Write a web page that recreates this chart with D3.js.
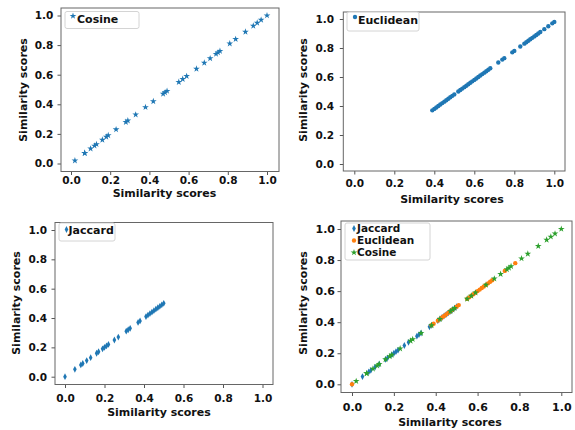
<!DOCTYPE html>
<html>
<head>
<meta charset="utf-8">
<script src="https://cdn.jsdelivr.net/npm/d3@7"></script>
<style>
  body { margin: 0; background: #fff; }
  text { font-family: "DejaVu Sans", sans-serif; font-weight: bold; fill: #111; }
</style>
</head>
<body>
<svg id="chart" width="575" height="430"></svg>
<script>
// tick values shared by every subplot
const tickVals = [0, 0.2, 0.4, 0.6, 0.8, 1.0];

// similarity scores
const cosine = [0.02, 0.07, 0.07, 0.10, 0.12, 0.13, 0.16, 0.18, 0.19, 0.23, 0.28, 0.29, 0.33, 0.38,
  0.42, 0.47, 0.48, 0.49, 0.55, 0.57, 0.59, 0.64, 0.68, 0.71, 0.74, 0.75, 0.76, 0.81, 0.84,
  0.89, 0.93, 0.95, 0.97, 1.00];

const euclidX = [0.39, 0.40, 0.41, 0.42, 0.43, 0.44, 0.45, 0.46, 0.47, 0.48, 0.49, 0.50, 0.52, 0.53,
  0.54, 0.55, 0.56, 0.57, 0.58, 0.59, 0.60, 0.61, 0.62, 0.63, 0.64, 0.65, 0.66, 0.67, 0.68,
  0.72, 0.74, 0.75, 0.79, 0.80, 0.83, 0.85, 0.86, 0.87, 0.88, 0.89, 0.90, 0.91, 0.92, 0.93,
  0.95, 0.97, 0.99, 1.00];
const euclidY = [0.37, 0.38, 0.39, 0.40, 0.41, 0.42, 0.43, 0.44, 0.45, 0.46, 0.47, 0.48, 0.50, 0.51,
  0.52, 0.53, 0.54, 0.55, 0.56, 0.57, 0.58, 0.59, 0.60, 0.61, 0.62, 0.63, 0.64, 0.65, 0.66,
  0.70, 0.72, 0.73, 0.77, 0.78, 0.81, 0.83, 0.84, 0.85, 0.86, 0.87, 0.88, 0.89, 0.90, 0.91,
  0.93, 0.95, 0.97, 0.98];

const jaccard = [0.00, 0.05, 0.08, 0.09, 0.11, 0.13, 0.16, 0.17, 0.19, 0.20, 0.21, 0.22, 0.25, 0.27,
  0.31, 0.32, 0.33, 0.37, 0.38, 0.41, 0.42, 0.43, 0.44, 0.45, 0.46, 0.47, 0.48, 0.49, 0.50];

// euclidean scores as they show in the combined plot
const euclidAll = [0.00, 0.38, 0.39, 0.41, 0.42, 0.43, 0.44, 0.45, 0.46, 0.47, 0.48, 0.50, 0.51, 0.55,
  0.56, 0.57, 0.58, 0.59, 0.60, 0.61, 0.62, 0.63, 0.64, 0.65, 0.66, 0.67, 0.73, 0.78];

const blue = "#1f77b4", orange = "#ff7f0e", green = "#2ca02c";

// marker shapes (matplotlib '*', '.', 'd')
const star = d3.symbol().type(d3.symbolStar).size(14);
const dot = d3.symbol().type(d3.symbolCircle).size(15);
const thinDiamond = d3.symbol().type({
  draw(ctx, size) {
    ctx.moveTo(0, -3.4); ctx.lineTo(1.8, 0); ctx.lineTo(0, 3.4); ctx.lineTo(-1.8, 0); ctx.closePath();
  }
});

const pairs = (xs, ys) => xs.map((v, i) => [v, ys ? ys[i] : v]);

const svg = d3.select("#chart");

const panels = [
  { l: 61, r: 279, t: 8, b: 171.5, x0: 71, x1: 267, y0: 163.5, y1: 15.5, fs: 10.5,
    xPad: 1.5, yPad: 4.2, xLab: [164.5, 193], yLab: [23, 90],
    series: [{ name: "Cosine", pts: pairs(cosine), sym: star, color: blue }],
    legend: { l: 65, t: 11.5, w: 74, h: 17, mx: 73, my: [16], tx: 77, ty: [23.3], fs: 11 } },
  { l: 343.3, r: 565, t: 12, b: 171, x0: 354.3, x1: 554.3, y0: 164, y1: 19, fs: 10.5,
    xPad: 5, yPad: 5.8, xLab: [452, 199], yLab: [303, 90],
    series: [{ name: "Euclidean", pts: pairs(euclidX, euclidY), sym: dot, color: blue }],
    legend: { l: 347, t: 12, w: 72, h: 19, mx: 355, my: [17], tx: 358, ty: [24], fs: 11 } },
  { l: 55, r: 273, t: 222.5, b: 384.5, x0: 65, x1: 262.5, y0: 376.7, y1: 230, fs: 10.5,
    xPad: 6.5, yPad: 4.5, xLab: [159, 411.7], yLab: [16, 303],
    series: [{ name: "Jaccard", pts: pairs(jaccard), sym: thinDiamond, color: blue }],
    legend: { l: 59, t: 223, w: 56, h: 18, mx: 66.5, my: [229.5], tx: 68.5, ty: [234], fs: 11 } },
  { l: 341, r: 572, t: 221, b: 392.5, x0: 352, x1: 561.3, y0: 384.3, y1: 229, fs: 11,
    xPad: 7, yPad: 2.5, xLab: [450, 421.7], yLab: [303, 303],
    series: [
      { name: "Jaccard", pts: pairs(jaccard), sym: thinDiamond, color: blue },
      { name: "Euclidean", pts: pairs(euclidAll), sym: dot, color: orange },
      { name: "Cosine", pts: pairs(cosine), sym: star, color: green }],
    legend: { l: 345, t: 223, w: 85, h: 37, mx: 354, my: [228.5, 240.5, 252.5], tx: 357, ty: [232.3, 244.3, 256.3], fs: 10.5 } }
];

panels.forEach(function(p) {
  const g = svg.append("g");
  const x = d3.scaleLinear().domain([0, 1]).range([p.x0, p.x1]);
  const y = d3.scaleLinear().domain([0, 1]).range([p.y0, p.y1]);

  const xAxis = g.append("g")
    .attr("transform", "translate(0," + p.b + ")")
    .call(d3.axisBottom(x).tickValues(tickVals).tickFormat(d3.format(".1f"))
      .tickSize(3.5).tickSizeOuter(0).tickPadding(p.xPad));
  const yAxis = g.append("g")
    .attr("transform", "translate(" + p.l + ",0)")
    .call(d3.axisLeft(y).tickValues(tickVals).tickFormat(d3.format(".1f"))
      .tickSize(3.5).tickSizeOuter(0).tickPadding(p.yPad));
  [xAxis, yAxis].forEach(function(a) {
    a.select(".domain").remove();
    a.selectAll("line").attr("stroke", "#555");
    a.selectAll("text").attr("font-size", p.fs).attr("font-family", null).attr("fill", "#111");
  });

  g.append("rect")
    .attr("x", p.l).attr("y", p.t)
    .attr("width", p.r - p.l).attr("height", p.b - p.t)
    .attr("fill", "none").attr("stroke", "#666").attr("stroke-width", 1);

  g.append("text")
    .attr("x", p.xLab[0]).attr("y", p.xLab[1])
    .attr("dy", "0.36em").attr("text-anchor", "middle").attr("font-size", 11)
    .text("Similarity scores");
  g.append("text")
    .attr("transform", "translate(" + p.yLab[0] + "," + p.yLab[1] + ") rotate(-90)")
    .attr("dy", "0.36em").attr("text-anchor", "middle").attr("font-size", 11)
    .text("Similarity scores");

  p.series.forEach(function(s) {
    g.append("g").selectAll("path")
      .data(s.pts)
      .enter().append("path")
      .attr("transform", function(d) { return "translate(" + x(d[0]) + "," + y(d[1]) + ")"; })
      .attr("d", s.sym)
      .attr("fill", s.color);
  });

  const lg = p.legend;
  const leg = g.append("g");
  leg.append("rect")
    .attr("x", lg.l).attr("y", lg.t).attr("width", lg.w).attr("height", lg.h)
    .attr("rx", 2).attr("fill", "#fff").attr("fill-opacity", 0.85)
    .attr("stroke", "#d4d4d4");
  p.series.forEach(function(s, i) {
    leg.append("path")
      .attr("transform", "translate(" + lg.mx + "," + lg.my[i] + ")")
      .attr("d", s.sym).attr("fill", s.color);
    leg.append("text")
      .attr("x", lg.tx).attr("y", lg.ty[i])
      .attr("font-size", lg.fs)
      .text(s.name);
  });
});
</script>
</body>
</html>
